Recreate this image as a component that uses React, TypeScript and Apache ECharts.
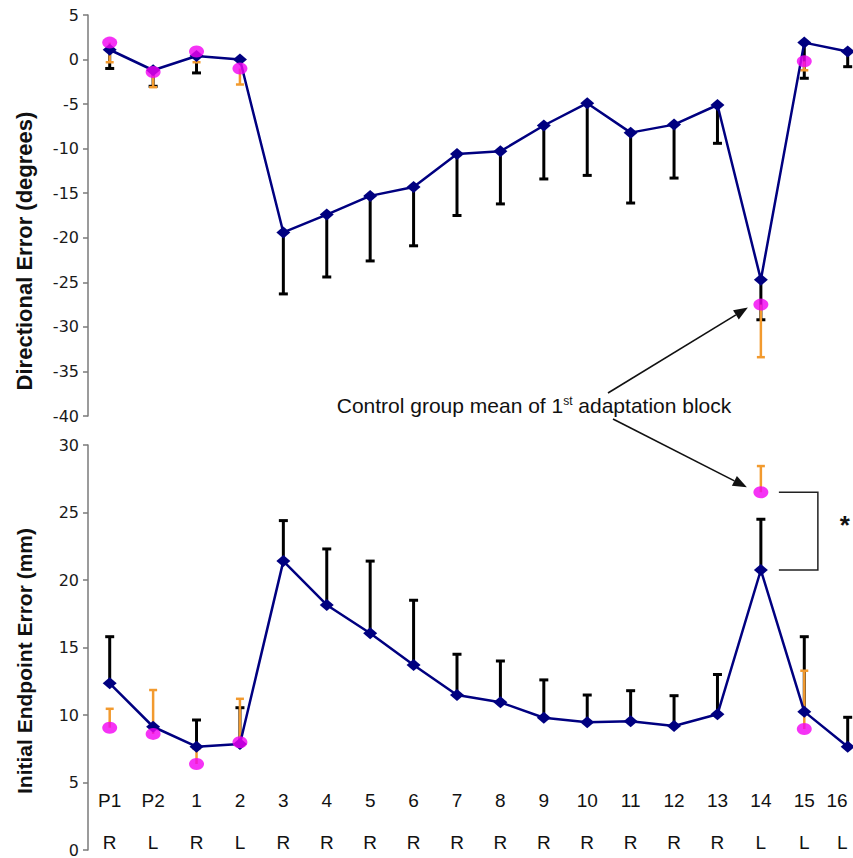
import React, { useEffect, useRef } from "react";
import * as echarts from "echarts";

// ---- data ----
const categories = ["P1", "P2", "1", "2", "3", "4", "5", "6", "7", "8", "9", "10", "11", "12", "13", "14", "15", "16"];
const hands = ["R", "L", "R", "L", "R", "R", "R", "R", "R", "R", "R", "R", "R", "R", "R", "L", "L", "L"];

const dirTicks = { min: -40, max: 5, interval: 5 };
const endTicks = { min: 0, max: 30, interval: 5 };

// Directional error (degrees): experimental group mean and end of its error bar
const dirMean = [1.1, -1.2, 0.4, 0.0, -19.4, -17.4, -15.3, -14.3, -10.6, -10.3, -7.4, -4.9, -8.2, -7.3, -5.1, -24.7, 1.9, 0.9];
const dirErrEnd = [-1.0, -3.0, -1.5, null, -26.3, -24.4, -22.6, -20.9, -17.5, -16.2, -13.4, -13.0, -16.1, -13.3, -9.4, -29.2, -2.1, -0.8];
// control group
const dirCtrlMean = [1.9, -1.4, 0.9, -1.0, null, null, null, null, null, null, null, null, null, null, null, -27.5, -0.2, null];
const dirCtrlErrEnd = [-0.3, -3.1, -0.3, -2.8, null, null, null, null, null, null, null, null, null, null, null, -33.4, -1.2, null];

// Initial endpoint error (mm)
const endMean = [12.35, 9.13, 7.65, 7.85, 21.4, 18.15, 16.05, 13.7, 11.48, 10.94, 9.8, 9.46, 9.53, 9.19, 10.05, 20.74, 10.25, 7.65];
const endErrEnd = [15.8, null, 9.63, 10.54, 24.4, 22.3, 21.4, 18.5, 14.5, 14.0, 12.6, 11.48, 11.8, 11.43, 13.0, 24.5, 15.8, 9.83];
const endCtrlMean = [9.06, 8.6, 6.37, 7.98, null, null, null, null, null, null, null, null, null, null, null, 26.5, 8.96, null];
const endCtrlErrEnd = [10.46, 11.85, 7.5, 11.2, null, null, null, null, null, null, null, null, null, null, null, 28.44, 13.28, null];

const annotationText = "Control group mean of 1{sup|st} adaptation block";
const highlightCategory = "14";

// ---- styles ----
const FONT = '"Liberation Sans", Arial, Helvetica, sans-serif';
const NAVY = "#000080";
const PINK = "#F200F2";
const ORANGE = "#F29A2E";
const BLACK = "#000000";

function errData(means: (number | null)[], ends: (number | null)[]) {
  const out: number[][] = [];
  means.forEach((m, i) => {
    const e = ends[i];
    if (m != null && e != null) out.push([i, m, e]);
  });
  return out;
}
function pts(values: (number | null)[]) {
  const out: number[][] = [];
  values.forEach((v, i) => {
    if (v != null) out.push([i, v]);
  });
  return out;
}

function errRender(color: string, lw: number, capW: number) {
  return (params: any, api: any) => {
    const x = api.value(0);
    const p1 = api.coord([x, api.value(1)]);
    const p2 = api.coord([x, api.value(2)]);
    return {
      type: "group",
      children: [
        { type: "line", shape: { x1: p1[0], y1: p1[1], x2: p2[0], y2: p2[1] }, style: { stroke: color, lineWidth: lw } },
        { type: "line", shape: { x1: p2[0] - capW / 2, y1: p2[1], x2: p2[0] + capW / 2, y2: p2[1] }, style: { stroke: color, lineWidth: lw } },
      ],
    };
  };
}

function panelSeries(gi: number, mean: any[], errEnd: any[], cMean: any[], cErrEnd: any[]) {
  return [
    {
      type: "custom",
      xAxisIndex: gi,
      yAxisIndex: gi,
      renderItem: errRender(BLACK, 3, 9),
      data: errData(mean, errEnd),
      encode: { x: 0, y: [1, 2] },
      z: 2,
      silent: true,
    },
    {
      type: "custom",
      xAxisIndex: gi,
      yAxisIndex: gi,
      renderItem: errRender(ORANGE, 2.5, 8),
      data: errData(cMean, cErrEnd),
      encode: { x: 0, y: [1, 2] },
      z: 3,
      silent: true,
    },
    {
      type: "line",
      xAxisIndex: gi,
      yAxisIndex: gi,
      data: mean,
      symbol: "diamond",
      symbolSize: [14, 12],
      itemStyle: { color: NAVY },
      lineStyle: { color: NAVY, width: 2.5 },
      z: 4,
    },
    {
      type: "scatter",
      xAxisIndex: gi,
      yAxisIndex: gi,
      data: pts(cMean),
      symbol: "circle",
      symbolSize: [15, 12],
      itemStyle: { color: PINK },
      z: 5,
    },
  ];
}

function yAxis(gi: number, t: { min: number; max: number; interval: number }) {
  return {
    type: "value",
    gridIndex: gi,
    min: t.min,
    max: t.max,
    interval: t.interval,
    splitLine: { show: false },
    axisLine: { show: true, lineStyle: { color: "#7a7a7a", width: 1.5 } },
    axisTick: { show: true, length: 5, lineStyle: { color: "#7a7a7a", width: 1.5 } },
    axisLabel: { fontSize: 16, fontFamily: '"DejaVu Sans", Arial, sans-serif', color: "#1a1a1a", margin: 9 },
  };
}

export default function App() {
  const ref = useRef<HTMLDivElement>(null);
  useEffect(() => {
    document.body.style.margin = "0";
    const chart = echarts.init(ref.current!, null, { renderer: "svg" });
    const gridW = 781.4;
    const option: any = {
      animation: false,
      backgroundColor: "#ffffff",
      grid: [
        { left: 88, top: 15, width: gridW, height: 401, outerBoundsMode: "none" },
        { left: 88, top: 445, width: gridW, height: 405, outerBoundsMode: "none" },
      ],
      xAxis: [
        { type: "category", gridIndex: 0, data: categories, boundaryGap: true, show: false },
        {
          type: "category",
          gridIndex: 1,
          data: categories,
          boundaryGap: true,
          offset: -79,
          axisLine: { show: false },
          axisTick: { show: false },
          axisLabel: {
            interval: 0,
            margin: 8,
            fontSize: 19,
            lineHeight: 42,
            fontFamily: FONT,
            color: "#111111",
            alignMaxLabel: "right",
            formatter: (v: string, i: number) => `${v}\n${hands[i]}`,
          },
        },
      ],
      yAxis: [yAxis(0, dirTicks), yAxis(1, endTicks)],
      series: [
        ...panelSeries(0, dirMean, dirErrEnd, dirCtrlMean, dirCtrlErrEnd),
        ...panelSeries(1, endMean, endErrEnd, endCtrlMean, endCtrlErrEnd),
      ],
    };
    chart.setOption(option);

    const hi = categories.indexOf(highlightCategory);
    const pTop = chart.convertToPixel({ gridIndex: 0 } as any, [hi, dirCtrlMean[hi] as number]) as number[];
    const pBot = chart.convertToPixel({ gridIndex: 1 } as any, [hi, endCtrlMean[hi] as number]) as number[];
    const pBlue = chart.convertToPixel({ gridIndex: 1 } as any, [hi, endMean[hi]]) as number[];

    const arrow = (x1: number, y1: number, x2: number, y2: number) => {
      const ang = Math.atan2(y2 - y1, x2 - x1);
      const L = 14;
      const W = 5.5;
      const bx = x2 - L * Math.cos(ang);
      const by = y2 - L * Math.sin(ang);
      const px = -Math.sin(ang) * W;
      const py = Math.cos(ang) * W;
      return [
        { type: "line", shape: { x1, y1, x2: bx, y2: by }, style: { stroke: "#111", lineWidth: 1.6 }, z: 10 },
        { type: "polygon", shape: { points: [[x2, y2], [bx + px, by + py], [bx - px, by - py]] }, style: { fill: "#111" }, z: 10 },
      ];
    };

    const bx1 = pBot[0] + 18;
    const bx2 = pBot[0] + 57;

    chart.setOption({
      graphic: [
        {
          type: "text",
          x: 24,
          y: 251,
          rotation: Math.PI / 2,
          style: { text: "Directional Error (degrees)", fontSize: 22, fontWeight: "bold", fontFamily: FONT, fill: "#111", align: "center", verticalAlign: "middle" },
        },
        {
          type: "text",
          x: 24,
          y: 661,
          rotation: Math.PI / 2,
          style: { text: "Initial Endpoint Error (mm)", fontSize: 21, fontWeight: "bold", fontFamily: FONT, fill: "#111", align: "center", verticalAlign: "middle" },
        },
        {
          type: "text",
          x: 534,
          y: 405,
          style: {
            text: annotationText,
            fontSize: 21,
            fontFamily: FONT,
            fill: "#111",
            align: "center",
            verticalAlign: "middle",
            rich: { sup: { fontSize: 12, fontFamily: FONT, fill: "#111", verticalAlign: "top" } },
          },
          z: 10,
        },
        ...arrow(608, 393, pTop[0] - 13, pTop[1] + 3),
        ...arrow(613, 419, pBot[0] - 14, pBot[1] - 5),
        {
          type: "polyline",
          shape: { points: [[bx1, pBot[1]], [bx2, pBot[1]], [bx2, pBlue[1]], [bx1, pBlue[1]]] },
          style: { stroke: "#222", lineWidth: 1.5, fill: null },
          z: 10,
        },
        {
          type: "text",
          x: pBot[0] + 84,
          y: (pBot[1] + pBlue[1]) / 2 - 6,
          style: { text: "*", fontSize: 26, fontWeight: "bold", fontFamily: FONT, fill: "#111", align: "center", verticalAlign: "middle" },
          z: 10,
        },
      ],
    });
    return () => chart.dispose();
  }, []);
  return <div ref={ref} style={{ width: 853, height: 858 }} />;
}
